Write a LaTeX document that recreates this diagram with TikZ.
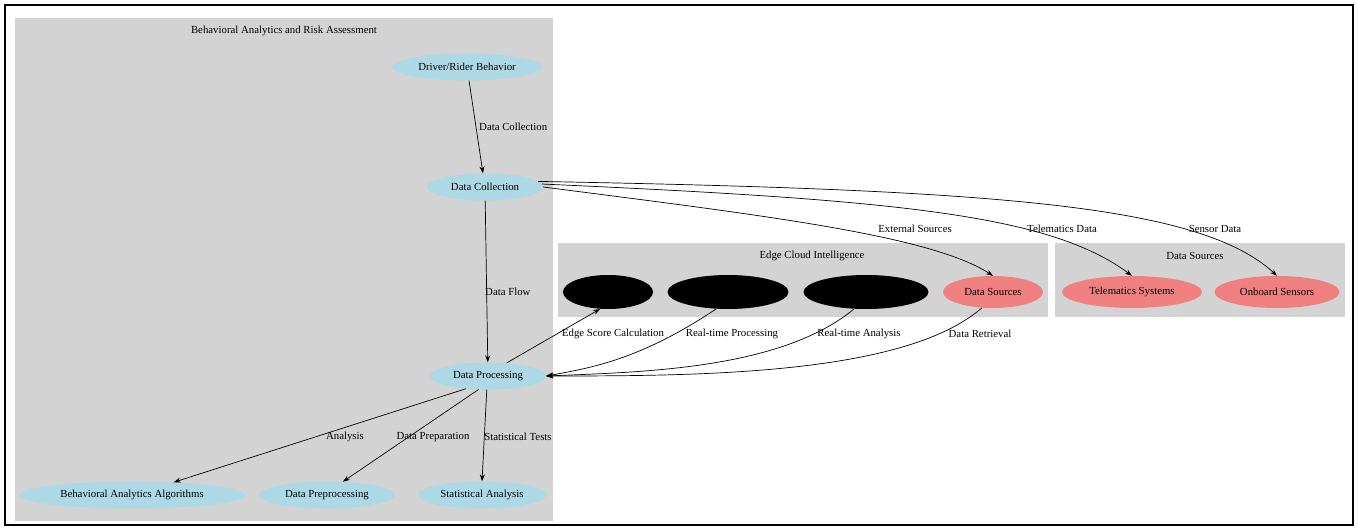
\documentclass[tikz,border=0pt]{standalone}
\usepackage{fontspec}
\setmainfont{Liberation Serif}
\usetikzlibrary{shapes.geometric,arrows.meta}
\definecolor{nodeblue}{RGB}{173,216,230}
\definecolor{nodered}{RGB}{240,128,128}
\definecolor{clustergray}{RGB}{211,211,211}
\tikzset{
  txt/.style={font=\fontsize{10.8}{12}\selectfont},
  bluenode/.style={ellipse, fill=nodeblue, draw=none, inner sep=0pt, minimum height=27pt, txt},
  rednode/.style={ellipse, fill=nodered, draw=none, inner sep=0pt, minimum height=32pt, txt},
  blacknode/.style={ellipse, fill=black, draw=none, inner sep=0pt, minimum height=34pt},
  cluster/.style={fill=clustergray, draw=none},
  ctitle/.style={txt, inner sep=0pt},
  elabel/.style={txt, inner sep=0pt},
  edge/.style={draw=black, line width=0.7pt, -{Stealth[length=7pt,width=5pt]}},
}
\begin{document}
\begin{tikzpicture}[x=1pt,y=-1pt]
\useasboundingbox (0,0) rectangle (1358,529);
\fill[white] (0,0) rectangle (1358,529);
\draw[line width=1.6pt] (5,5) rectangle (1353,525);
% clusters
\fill[cluster] (15,18) rectangle (553,521);
\node[ctitle] (t1) at (284,31) {Behavioral Analytics and Risk Assessment};
\fill[cluster] (558,243) rectangle (1048,317);
\node[ctitle] (t2) at (812,256) {Edge Cloud Intelligence};
\fill[cluster] (1055,243) rectangle (1345,317);
\node[ctitle] (t3) at (1195,256) {Data Sources};
% nodes
\node[bluenode, minimum width=150pt] (drb) at (467,67) {Driver/Rider Behavior};
\node[bluenode, minimum width=116pt] (dc) at (485,187) {Data Collection};
\node[bluenode, minimum width=116pt] (dp) at (488,376) {Data Processing};
\node[bluenode, minimum width=226pt] (baa) at (132,495) {Behavioral Analytics Algorithms};
\node[bluenode, minimum width=136pt] (dpre) at (327,495) {Data Preprocessing};
\node[bluenode, minimum width=128pt] (sa) at (482,495) {Statistical Analysis};
\node[blacknode, minimum width=90pt] (b1) at (608,292) {};
\node[blacknode, minimum width=121pt] (b2) at (728,292) {};
\node[blacknode, minimum width=125pt] (b3) at (866,292) {};
\node[rednode, minimum width=100pt] (ds) at (993,292) {Data Sources};
\node[rednode, minimum width=140pt] (tel) at (1132,292) {Telematics Systems};
\node[rednode, minimum width=125pt] (obs) at (1277,292) {Onboard Sensors};
% edges
\draw[edge] (drb) -- (dc);
\node[elabel, anchor=west] (l1) at (479,127) {Data Collection};
\draw[edge] (dc) -- (dp);
\node[elabel, anchor=west] (l2) at (485,292) {Data Flow};
\draw[edge] (dc.east) .. controls (760,215) and (930,235) .. (ds.north);
\node[elabel] (l3) at (915,229) {External Sources};
\draw[edge] (dc.3) .. controls (900,200) and (1050,215) .. (tel.north);
\node[elabel] (l4) at (1062,229) {Telematics Data};
\draw[edge] (dc.6) .. controls (1000,190) and (1200,205) .. (obs.north);
\node[elabel] (l5) at (1215,229) {Sensor Data};
\draw[edge] (dp.35) -- (b1.-115);
\node[elabel] (l6) at (613,334) {Edge Score Calculation};
\draw[edge] (b2.-125) .. controls (640,360) and (590,368) .. (dp.east);
\node[elabel] (l7) at (732,334) {Real-time Processing};
\draw[edge] (b3.-125) .. controls (780,370) and (640,372) .. (dp.east);
\node[elabel] (l8) at (859,334) {Real-time Analysis};
\draw[edge] (ds.-125) .. controls (905,375) and (700,376) .. (dp.east);
\node[elabel] (l9) at (980,334) {Data Retrieval};
\draw[edge] (dp.-150) -- (baa.17);
\node[elabel] (l10) at (345,437) {Analysis};
\draw[edge] (dp.-125) -- (dpre.40);
\node[elabel] (l11) at (433,437) {Data Preparation};
\draw[edge] (dp.-95) -- (sa.north);
\node[elabel] (l12) at (518,437) {Statistical Tests};
\end{tikzpicture}
\end{document}
